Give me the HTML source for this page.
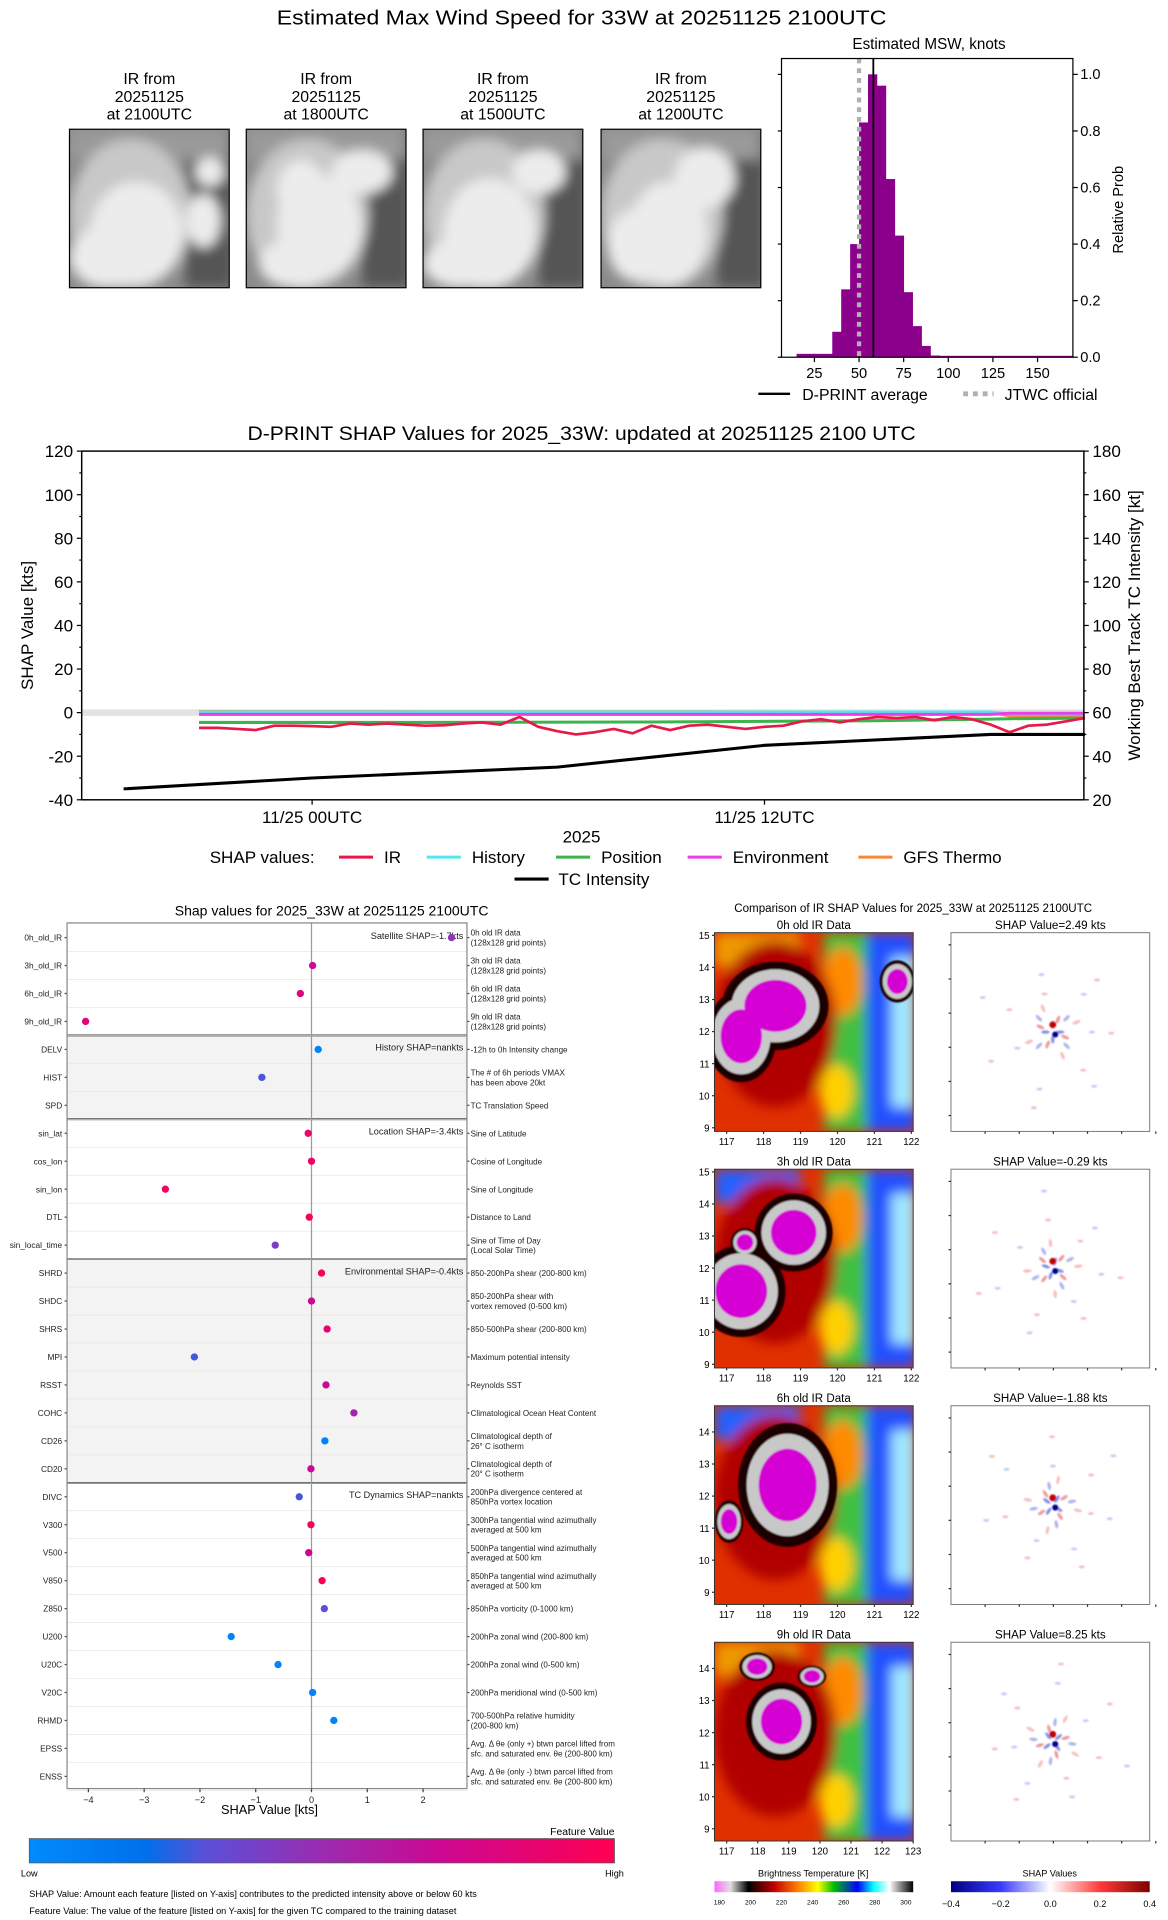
<!DOCTYPE html>
<html><head><meta charset="utf-8"><style>
html,body{margin:0;padding:0;background:#fff;width:1168px;height:1920px;overflow:hidden}
svg{display:block;font-family:"Liberation Sans",sans-serif}
</style></head><body>
<svg id="s" width="1168" height="1920" viewBox="0 0 958 1574.8" xmlns="http://www.w3.org/2000/svg">
<defs>
<filter id="bl" x="-20%" y="-20%" width="140%" height="140%"><feGaussianBlur stdDeviation="3"/></filter>
<filter id="bl4" x="-20%" y="-20%" width="140%" height="140%"><feGaussianBlur stdDeviation="5"/></filter>
<filter id="bl2"><feGaussianBlur stdDeviation="1.2"/></filter>
<filter id="bl1"><feGaussianBlur stdDeviation="0.7"/></filter>
<linearGradient id="fv" x1="0" x2="1"><stop offset="0" stop-color="#008bfb"/><stop offset="0.2" stop-color="#0070ea"/><stop offset="0.3" stop-color="#5a50d8"/><stop offset="0.5" stop-color="#9a2cb0"/><stop offset="0.7" stop-color="#cc0892"/><stop offset="1" stop-color="#ff0052"/></linearGradient>
<linearGradient id="btc" x1="0" x2="1"><stop offset="0" stop-color="#ff66ff"/><stop offset="0.08" stop-color="#e0e0e0"/><stop offset="0.17" stop-color="#000"/><stop offset="0.3" stop-color="#c00000"/><stop offset="0.42" stop-color="#ff8000"/><stop offset="0.52" stop-color="#ffff00"/><stop offset="0.6" stop-color="#00c000"/><stop offset="0.72" stop-color="#0000ff"/><stop offset="0.8" stop-color="#00ffff"/><stop offset="0.88" stop-color="#ffffff"/><stop offset="1" stop-color="#000"/></linearGradient>
<linearGradient id="sc" x1="0" x2="1"><stop offset="0" stop-color="#00007f"/><stop offset="0.25" stop-color="#3a3aff"/><stop offset="0.5" stop-color="#ffffff"/><stop offset="0.75" stop-color="#ff3a3a"/><stop offset="1" stop-color="#7f0000"/></linearGradient>
</defs>

<text x="477" y="20" font-size="17" text-anchor="middle" textLength="500" lengthAdjust="spacingAndGlyphs">Estimated Max Wind Speed for 33W at 20251125 2100UTC</text>
<g id="irtop"></g>
<g id="hist"></g>
<g id="ts"></g>
<g id="bee"></g>
<g id="maps"></g>
</svg>
<script>
const NS="http://www.w3.org/2000/svg";
function el(p,t,a,txt){const e=document.createElementNS(NS,t);for(const k in a)e.setAttribute(k,a[k]);if(txt!==undefined)e.textContent=txt;p.appendChild(e);return e;}

// ---------- data ----------
const histBins=[15,20,25,30,35,40,45,50,55,60,65,70,75,80,85,90,95,100,110,120,130,140,150,160];
const histProb=[0.012,0.012,0.012,0.012,0.09,0.24,0.40,0.83,1.0,0.96,0.63,0.43,0.23,0.11,0.04,0.006,0.005,0.005,0.005,0.005,0.005,0.005,0.005,0.005];
const dprintAvg=58;
const jtwc=50;
const histXTicks=[25,50,75,100,125,150];
const histYTicks=[0,0.2,0.4,0.6,0.8,1.0];

const tsHours=[-3,-2.5,-2,-1.5,-1,-0.5,0,0.5,1,1.5,2,2.5,3,3.5,4,4.5,5,5.5,6,6.5,7,7.5,8,8.5,9,9.5,10,10.5,11,11.5,12,12.5,13,13.5,14,14.5,15,15.5,16,16.5,17,17.5,18,18.5,19,19.5,20,20.5];
const irShap=[-7,-7,-7.5,-8,-6,-6,-6.2,-6.5,-5,-5.5,-5,-5.5,-6,-5.8,-5,-4.5,-5.5,-2,-6.5,-8.5,-10,-9,-7.5,-9.5,-6,-8,-6,-5.5,-6.5,-7.5,-6.5,-6,-4,-3,-4.5,-3,-2,-2.5,-2,-3.5,-2,-3,-5.5,-9,-6,-5.5,-4,-2.5];
const lineHours=[-3,3,9,15,18,18.5,20.5];
const histShap=[0.3,0.3,0.3,0.3,0.3,-0.5,-0.5];
const posShap=[-4.5,-4.5,-4.3,-3.7,-3,-2.8,-2.5];
const envShap=[-0.8,-0.8,-0.8,-0.8,-0.8,-0.3,-0.3];
const gfsShap=[0.5,0.4,0.4,0.3,0.3,-1.5,-1.5];
const tcHours=[-5,0,6.5,12,18,20.5];
const tcInt=[25,30,35,45,50,50];
const tsLeftTicks=[-40,-20,0,20,40,60,80,100,120];
const tsRightTicks=[20,40,60,80,100,120,140,160,180];

const feats=["0h_old_IR","3h_old_IR","6h_old_IR","9h_old_IR","DELV","HIST","SPD","sin_lat","cos_lon","sin_lon","DTL","sin_local_time","SHRD","SHDC","SHRS","MPI","RSST","COHC","CD26","CD20","DIVC","V300","V500","V850","Z850","U200","U20C","V20C","RHMD","EPSS","ENSS"];
const featShap=[2.51,0.02,-0.2,-4.05,0.12,-0.89,null,-0.06,0,-2.62,-0.04,-0.65,0.18,0,0.28,-2.1,0.26,0.76,0.24,-0.01,-0.22,-0.01,-0.05,0.19,0.23,-1.44,-0.6,0.02,0.4,null,null];
const featVal=[0.45,0.7,0.8,0.8,0.05,0.28,null,0.9,0.9,0.92,0.95,0.4,0.95,0.7,0.85,0.28,0.7,0.55,0.05,0.7,0.28,0.97,0.72,0.95,0.3,0.05,0.05,0.05,0.05,null,null];
const featDesc=[["0h old IR data","(128x128 grid points)"],["3h old IR data","(128x128 grid points)"],["6h old IR data","(128x128 grid points)"],["9h old IR data","(128x128 grid points)"],["-12h to 0h Intensity change"],["The # of 6h periods VMAX","has been above 20kt"],["TC Translation Speed"],["Sine of Latitude"],["Cosine of Longitude"],["Sine of Longitude"],["Distance to Land"],["Sine of Time of Day","(Local Solar Time)"],["850-200hPa shear (200-800 km)"],["850-200hPa shear with","vortex removed (0-500 km)"],["850-500hPa shear (200-800 km)"],["Maximum potential intensity"],["Reynolds SST"],["Climatological Ocean Heat Content"],["Climatological depth of","26° C isotherm"],["Climatological depth of","20° C isotherm"],["200hPa divergence centered at","850hPa vortex location"],["300hPa tangential wind azimuthally","averaged at 500 km"],["500hPa tangential wind azimuthally","averaged at 500 km"],["850hPa tangential wind azimuthally","averaged at 500 km"],["850hPa vorticity (0-1000 km)"],["200hPa zonal wind (200-800 km)"],["200hPa zonal wind (0-500 km)"],["200hPa meridional wind (0-500 km)"],["700-500hPa relative humidity","(200-800 km)"],["Avg. Δ θe (only +) btwn parcel lifted from","sfc. and saturated env. θe (200-800 km)"],["Avg. Δ θe (only -) btwn parcel lifted from","sfc. and saturated env. θe (200-800 km)"]];
const groups=[{start:0,end:3,label:"Satellite SHAP=-1.7kts",bg:"#fff"},{start:4,end:6,label:"History SHAP=nankts",bg:"#f3f3f3"},{start:7,end:11,label:"Location SHAP=-3.4kts",bg:"#fff"},{start:12,end:19,label:"Environmental SHAP=-0.4kts",bg:"#f3f3f3"},{start:20,end:30,label:"TC Dynamics SHAP=nankts",bg:"#fff"}];
const beeTicks=[-4,-3,-2,-1,0,1,2];

// ---------- IR thumbnails ----------
(function(){
 const g=document.getElementById('irtop');
 const times=["2100UTC","1800UTC","1500UTC","1200UTC"];
 const xs=[57,202,347,493];
 const blobs=[[[55,85,38,42],[115,35,12,12],[110,75,14,22],[30,105,30,25]],[[60,80,35,42],[95,35,25,18],[45,50,20,25],[40,110,30,20]],[[55,85,38,45],[95,35,22,18],[30,110,30,20]],[[55,85,32,42],[85,40,25,25],[30,95,25,30]]];
 xs.forEach((x,i)=>{
  const t=el(g,'text',{x:x+65.5,y:69,'font-size':13,'text-anchor':'middle'});
  
  
  ["IR from","20251125","at "+times[i]].forEach((s,k)=>el(t,'tspan',{x:x+65.5,dy:k?14.5:0},s));
  const cid='tc'+i;
  const cp=el(g,'clipPath',{id:cid});el(cp,'rect',{x:x,y:106,width:131,height:130});
  const pg=el(g,'g',{'clip-path':'url(#'+cid+')'});
  el(pg,'rect',{x:x,y:106,width:131,height:130,fill:'#8a8a8a'});
  const cg=el(pg,'g',{filter:'url(#bl4)'});
  el(cg,'rect',{x:x+95,y:106,width:40,height:130,fill:'#555'});
  el(cg,'rect',{x:x,y:106,width:131,height:25,fill:'#9a9a9a'});
  el(cg,'ellipse',{cx:x+50,cy:176,rx:50,ry:62,fill:'#c8c8c8'});
  blobs[i].forEach(b=>el(cg,'ellipse',{cx:x+b[0],cy:106+b[1],rx:b[2],ry:b[3],fill:'#ececec'}));
  const fr=el(g,'rect',{x:x,y:106,width:131,height:130,fill:'none',stroke:'#000','stroke-width':1});
  
  
 });
})();

// ---------- Histogram ----------
(function(){
 const g=document.getElementById('hist');
 const L=641,R=880,T=48,B=293;
 const X=v=>631.4+v*1.464, Y=p=>B-p*232;
 el(g,'text',{x:762,y:40,'font-size':12.5,'text-anchor':'middle'},'Estimated MSW, knots');
 histBins.forEach((b,i)=>{
  const nb=i<histBins.length-1?histBins[i+1]:170;
  const r=el(g,'rect',{x:X(b),y:Y(histProb[i]),width:X(nb)-X(b)+0.3,height:B-Y(histProb[i]),fill:'#8b008b'});
  
  
 });
 const j=el(g,'line',{x1:X(jtwc),x2:X(jtwc),y1:T,y2:B,stroke:'#b0b0b0','stroke-width':3.5,'stroke-dasharray':'4,4'});
 
 
 const d=el(g,'line',{x1:X(dprintAvg),x2:X(dprintAvg),y1:T,y2:B,stroke:'#000','stroke-width':1.5});
 
 
 el(g,'rect',{x:L,y:T,width:R-L,height:B-T,fill:'none',stroke:'#000','stroke-width':1});
 histXTicks.forEach(v=>{el(g,'line',{x1:X(v),x2:X(v),y1:B,y2:B+4,stroke:'#000'});el(g,'text',{x:X(v),y:B+17,'font-size':12,'text-anchor':'middle'},v);});
 histYTicks.forEach(v=>{el(g,'line',{x1:R,x2:R+4,y1:Y(v),y2:Y(v),stroke:'#000'});el(g,'line',{x1:L,x2:L-3,y1:Y(v),y2:Y(v),stroke:'#000'});el(g,'text',{x:R+6,y:Y(v)+4,'font-size':12},v.toFixed(1));});
 el(g,'text',{x:921,y:172,'font-size':12,'text-anchor':'middle',transform:'rotate(-90 921 172)'},'Relative Prob');
 el(g,'line',{x1:622,x2:648,y1:323,y2:323,stroke:'#000','stroke-width':2});
 el(g,'text',{x:658,y:328,'font-size':13},'D-PRINT average');
 el(g,'line',{x1:790,x2:815,y1:323,y2:323,stroke:'#b0b0b0','stroke-width':4,'stroke-dasharray':'4,4'});
 el(g,'text',{x:824,y:328,'font-size':13},'JTWC official');
})();

// ---------- Time series ----------
(function(){
 const g=document.getElementById('ts');
 const L=67,R=889,T=370,B=656;
 const X=h=>256+h*30.92, Y=v=>B-(v+40)*1.7875, YR=r=>B-(r-20)*1.7875;
 el(g,'text',{x:477,y:361,'font-size':16,'text-anchor':'middle',textLength:548,lengthAdjust:'spacingAndGlyphs'},'D-PRINT SHAP Values for 2025_33W: updated at 20251125 2100 UTC');
 el(g,'rect',{x:L,y:Y(1.5),width:R-L,height:Y(-1.5)-Y(1.5),fill:'#e3e3e3'});
 function line(hs,vs,color,w,yf,name){
  const p=el(g,'polyline',{points:hs.map((h,i)=>X(h)+','+yf(vs[i])).join(' '),fill:'none',stroke:color,'stroke-width':w,'stroke-linejoin':'round'});
  
  
 }
 line(lineHours,gfsShap,'#f58a3a',2.5,Y,'gfs-thermo-line');
 line(lineHours,histShap,'#4ee8ee',2.5,Y,'history-line');
 line(lineHours,envShap,'#ee3de8',2.5,Y,'environment-line');
 line(lineHours,posShap,'#3cb44b',2.5,Y,'position-line');
 line(tsHours,irShap,'#e6194b',2.2,Y,'ir-line');
 line(tcHours,tcInt,'#000',2.5,YR,'tc-intensity-line');
 el(g,'rect',{x:L,y:T,width:R-L,height:B-T,fill:'none',stroke:'#000','stroke-width':1.2});
 tsLeftTicks.forEach(v=>{el(g,'line',{x1:L,x2:L-4,y1:Y(v),y2:Y(v),stroke:'#000'});el(g,'text',{x:L-7,y:Y(v)+5,'font-size':14,'text-anchor':'end'},v);});
 for(let v=-30;v<120;v+=20)el(g,'line',{x1:L,x2:L-2,y1:Y(v),y2:Y(v),stroke:'#000'});
 tsRightTicks.forEach(v=>{el(g,'line',{x1:R,x2:R+4,y1:YR(v),y2:YR(v),stroke:'#000'});el(g,'text',{x:R+7,y:YR(v)+5,'font-size':14},v);});
 for(let v=30;v<180;v+=20)el(g,'line',{x1:R,x2:R+2,y1:YR(v),y2:YR(v),stroke:'#000'});
 [[0,'11/25 00UTC'],[12,'11/25 12UTC']].forEach(t=>{el(g,'line',{x1:X(t[0]),x2:X(t[0]),y1:B,y2:B+4,stroke:'#000'});el(g,'text',{x:X(t[0]),y:B+19,'font-size':14,'text-anchor':'middle'},t[1]);});
 el(g,'text',{x:477,y:691,'font-size':14,'text-anchor':'middle'},'2025');
 el(g,'text',{x:27,y:513,'font-size':14,'text-anchor':'middle',transform:'rotate(-90 27 513)'},'SHAP Value [kts]');
 el(g,'text',{x:935,y:513,'font-size':14,'text-anchor':'middle',transform:'rotate(-90 935 513)'},'Working Best Track TC Intensity [kt]');
 el(g,'text',{x:172,y:708,'font-size':14},'SHAP values:');
 [['IR','#e6194b',278],['History','#4ee8ee',350],['Position','#3cb44b',456],['Environment','#ee3de8',564],['GFS Thermo','#f58a3a',704]].forEach(l=>{
  el(g,'line',{x1:l[2],x2:l[2]+28,y1:703,y2:703,stroke:l[1],'stroke-width':2.5});
  el(g,'text',{x:l[2]+37,y:708,'font-size':14},l[0]);
 });
 el(g,'line',{x1:422,x2:450,y1:721,y2:721,stroke:'#000','stroke-width':2.5});
 el(g,'text',{x:458,y:726,'font-size':14},'TC Intensity');
})();

// ---------- SHAP feature chart ----------
(function(){
 const g=document.getElementById('bee');
 const L=55,R=383,T=757,B=1467;
 const X=v=>255.5+v*45.75;
 const rowY=i=>769+i*(688/30);
 function col(t){const st=[[0,[0,139,251]],[0.2,[0,112,234]],[0.3,[90,80,216]],[0.5,[154,44,176]],[0.7,[204,8,146]],[1,[255,0,82]]];for(let k=1;k<st.length;k++){if(t<=st[k][0]){const a=st[k-1],b=st[k],f=(t-a[0])/(b[0]-a[0]);return 'rgb('+a[1].map((c,j)=>Math.round(c+(b[1][j]-c)*f)).join(',')+')';}}return 'rgb(255,0,82)';}
 el(g,'text',{x:272,y:751,'font-size':11.5,'text-anchor':'middle'},'Shap values for 2025_33W at 20251125 2100UTC');
 groups.forEach((gr,k)=>{
  const y0=k?(rowY(gr.start)+rowY(gr.start-1))/2:T;
  const y1=gr.end>=feats.length-1?B:(rowY(gr.end)+rowY(gr.end+1))/2;
  el(g,'rect',{x:L,y:y0,width:R-L,height:y1-y0,fill:gr.bg});
  if(k)el(g,'line',{x1:L,x2:R,y1:y0,y2:y0,stroke:'#000','stroke-width':1.3});
  el(g,'text',{x:R-3,y:rowY(gr.start)+1,'font-size':7.5,'text-anchor':'end',fill:'#222'},gr.label);
 });
 feats.forEach((f,i)=>{
  const y=rowY(i);
  el(g,'line',{x1:L,x2:R,y1:y+11.5,y2:y+11.5,stroke:'#e6e6e6','stroke-width':0.6});
  el(g,'text',{x:L-4,y:y+2.5,'font-size':6.8,'text-anchor':'end',fill:'#222'},f);
  el(g,'line',{x1:L,x2:L-2,y1:y,y2:y,stroke:'#444'});
  el(g,'line',{x1:R,x2:R+2,y1:y,y2:y,stroke:'#444'});
  const d=featDesc[i];
  d.forEach((s,k)=>el(g,'text',{x:R+3,y:y+(d.length>1?(k?6.5:-1.5):2.5),'font-size':6.6,fill:'#222'},s));
 });
 el(g,'line',{x1:X(0),x2:X(0),y1:T,y2:B,stroke:'#999','stroke-width':1});
 feats.forEach((f,i)=>{
  if(featShap[i]===null)return;
  const c=el(g,'circle',{cx:X(featShap[i]),cy:rowY(i),r:3,fill:col(featVal[i])});
  
  
 });
 el(g,'rect',{x:L,y:T,width:R-L,height:B-T,fill:'none',stroke:'#888','stroke-width':1});
 beeTicks.forEach(v=>{el(g,'line',{x1:X(v),x2:X(v),y1:B,y2:B+3,stroke:'#444'});el(g,'text',{x:X(v),y:B+12,'font-size':7.5,'text-anchor':'middle',fill:'#222'},v===0?'0':(v<0?'\u2212'+(-v):v));});
 el(g,'text',{x:221,y:1488,'font-size':10.5,'text-anchor':'middle'},'SHAP Value [kts]');
 el(g,'text',{x:504,y:1505,'font-size':8.5,'text-anchor':'end'},'Feature Value');
 const cb=el(g,'rect',{x:24,y:1508,width:480,height:20,fill:'url(#fv)',stroke:'#555','stroke-width':0.6});
 
 
 el(g,'text',{x:24,y:1539,'font-size':7.5,'text-anchor':'middle'},'Low');
 el(g,'text',{x:504,y:1539,'font-size':7.5,'text-anchor':'middle'},'High');
 el(g,'text',{x:24,y:1556,'font-size':7.5},'SHAP Value: Amount each feature [listed on Y-axis] contributes to the predicted intensity above or below 60 kts');
 el(g,'text',{x:24,y:1570,'font-size':7.5},'Feature Value: The value of the feature [listed on Y-axis] for the given TC compared to the training dataset');
})();

// ---------- IR / SHAP maps ----------
(function(){
 const g=document.getElementById('maps');
 el(g,'text',{x:749,y:748,'font-size':9.5,'text-anchor':'middle'},'Comparison of IR SHAP Values for 2025_33W at 20251125 2100UTC');
 const tops=[765,959,1153,1347];
 const titles=['0h old IR Data','3h old IR Data','6h old IR Data','9h old IR Data'];
 const shapT=['SHAP Value=2.49 kts','SHAP Value=-0.29 kts','SHAP Value=-1.88 kts','SHAP Value=8.25 kts'];
 const cores=[[[50,60,30,25],[22,85,20,26],[150,40,10,12]],[[65,52,22,22],[22,100,25,26],[25,60,8,8]],[[60,65,28,35],[12,95,8,12]],[[55,65,20,22],[35,20,10,8],[80,28,8,6]]];
 tops.forEach((t,i)=>{
  const x=586,W=163;
  const cid='c'+i;
  const cp=el(g,'clipPath',{id:cid});el(cp,'rect',{x:x,y:t,width:W,height:W});
  const pg=el(g,'g',{'clip-path':'url(#'+cid+')'});
  
  
  el(pg,'rect',{x:x,y:t,width:W,height:W,fill:'#e03000'});
  const bg=el(pg,'g',{filter:'url(#bl4)'});
  el(bg,'rect',{x:x+90,y:t,width:75,height:W,fill:'#40c040'});
  el(bg,'rect',{x:x+125,y:t,width:40,height:W,fill:'#2050ff'});
  el(bg,'ellipse',{cx:x+105,cy:t+40,rx:16,ry:28,fill:'#ff8a00'});
  el(bg,'ellipse',{cx:x+100,cy:t+130,rx:14,ry:22,fill:'#ffd000'});
  el(bg,'rect',{x:x,y:t,width:70,height:28,fill:i==1||i==2?'#2060ff':'#ee9900'});
  el(bg,'rect',{x:x+145,y:t+20,width:20,height:W-40,fill:'#a0e8ff'});
  el(bg,'ellipse',{cx:x+50,cy:t+75,rx:50,ry:68,fill:'#b00000'});
  const cg=el(pg,'g',{filter:'url(#bl1)'});
  cores[i].forEach(c=>el(cg,'ellipse',{cx:x+c[0],cy:t+c[1],rx:c[2]*1.45,ry:c[3]*1.45,fill:'#1a0000'}));
  cores[i].forEach(c=>el(cg,'ellipse',{cx:x+c[0],cy:t+c[1],rx:c[2]*1.2,ry:c[3]*1.2,fill:'#c8c8c8'}));
  cores[i].forEach(c=>el(cg,'ellipse',{cx:x+c[0],cy:t+c[1],rx:c[2]*0.85,ry:c[3]*0.85,fill:'#d400d4'}));
  el(g,'rect',{x:x,y:t,width:W,height:W,fill:'none',stroke:'#333','stroke-width':0.8});
  el(g,'text',{x:x+W/2,y:t-3,'font-size':9.5,'text-anchor':'middle'},titles[i]);
  const lats=i<2?[9,10,11,12,13,14,15]:[9,10,11,12,13,14];
  lats.forEach((v,k)=>{const yy=t+W-3-k*26.3-(i>=2?7:0);el(g,'line',{x1:x,x2:x-2,y1:yy,y2:yy,stroke:'#333'});el(g,'text',{x:x-4,y:yy+3,'font-size':8,'text-anchor':'end'},v);});
  const lons=i<3?[117,118,119,120,121,122]:[117,118,119,120,121,122,123];
  lons.forEach((v,k)=>{const xx=x+10+k*(i<3?30.3:25.5);el(g,'line',{x1:xx,x2:xx,y1:t+W,y2:t+W+2,stroke:'#333'});el(g,'text',{x:xx,y:t+W+11,'font-size':8,'text-anchor':'middle'},v);});
  // SHAP map
  const sx=780;
  const sg=el(g,'g',{});
  
  
  el(sg,'rect',{x:sx,y:t,width:W,height:W,fill:'#fff',stroke:'#777','stroke-width':0.8});
  const cx=sx+W/2+2,cy=t+W/2;
  const blur=el(sg,'g',{filter:'url(#bl1)'});
  for(let a=0;a<16;a++){const ang=a*Math.PI/8+i*0.3, rr=6+(a%4)*5;
   const ex=cx+Math.cos(ang)*rr, ey=cy+Math.sin(ang)*rr;
   el(blur,'ellipse',{cx:ex,cy:ey,rx:3.5,ry:1.4,fill:a%2?'#e86060':'#6070e0','fill-opacity':0.75-(a%4)*0.12,transform:'rotate('+(ang*57.3)+' '+ex+' '+ey+')'});}
  for(let a=0;a<14;a++){const ang=a*0.9+i, rr=32+(a%5)*8;
   el(blur,'ellipse',{cx:cx+Math.cos(ang)*rr,cy:cy+Math.sin(ang)*rr,rx:2.5,ry:1.2,fill:a%2?'#f4c0c0':'#c8ccf4'});}
  el(blur,'circle',{cx:cx,cy:cy-6,r:2.8,fill:'#c00000'});
  el(blur,'circle',{cx:cx+2,cy:cy+2,r:2.5,fill:'#000090'});
  el(g,'text',{x:sx+W/2,y:t-3,'font-size':9.5,'text-anchor':'middle'},shapT[i]);
  for(let k=0;k<6;k++){el(g,'line',{x1:sx-2,x2:sx,y1:t+10+k*28,y2:t+10+k*28,stroke:'#333'});el(g,'line',{x1:sx+28+k*28,x2:sx+28+k*28,y1:t+W,y2:t+W+2,stroke:'#333'});}
 });
 el(g,'text',{x:667,y:1539,'font-size':7.5,'text-anchor':'middle'},'Brightness Temperature [K]');
 const b1=el(g,'rect',{x:586,y:1543,width:163,height:9,fill:'url(#btc)'});
 
 
 [180,200,220,240,260,280,300].forEach((v,k)=>el(g,'text',{x:590+k*25.5,y:1562,'font-size':5.5,'text-anchor':'middle'},v));
 el(g,'text',{x:861,y:1539,'font-size':7.5,'text-anchor':'middle'},'SHAP Values');
 const b2=el(g,'rect',{x:780,y:1543,width:163,height:9,fill:'url(#sc)'});
 
 
 ['\u22120.4','\u22120.2','0.0','0.2','0.4'].forEach((v,k)=>el(g,'text',{x:780+k*40.75,y:1564,'font-size':7.5,'text-anchor':'middle'},v));
})();
</script>
</body></html>
